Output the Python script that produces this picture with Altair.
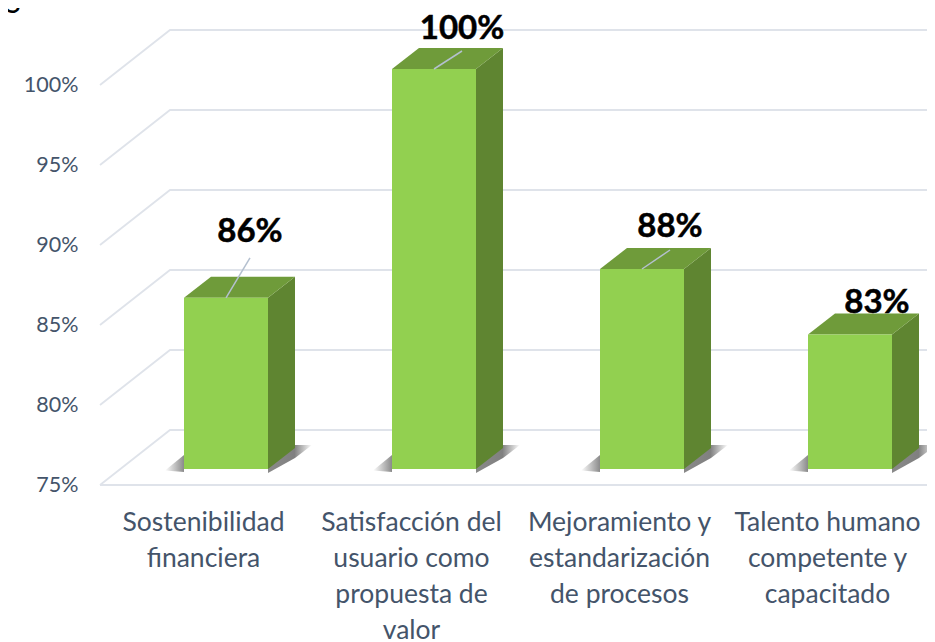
import altair as alt
import pandas as pd

categories = ["Sostenibilidad financiera", "Satisfacción del usuario como propuesta de valor",
              "Mejoramiento y estandarización de procesos", "Talento humano competente y capacitado"]
wrapped = [["Sostenibilidad", "financiera"],
           ["Satisfacción del", "usuario como", "propuesta de", "valor"],
           ["Mejoramiento y", "estandarización", "de procesos"],
           ["Talento humano", "competente y", "capacitado"]]
values = [85.7, 100.0, 87.5, 83.4]
y_ticks = [75, 80, 85, 90, 95, 100]

# layout of the pseudo-3D box, in scale units (x: category slots, y: percent)
PX_X, PX_Y = 208.0, 16.0
X_MIN, X_MAX = (100 - 226) / PX_X, (927 - 226) / PX_X
Y_MIN, Y_MAX = 75.0, 75 + 477 / PX_Y
WALL_DX, WALL_DY = 70 / PX_X, 55 / PX_Y
BAR_HALF = 42 / PX_X
BAR_DX, BAR_DY = 27 / PX_X, 21 / PX_Y
PLANE = 1.0                # bars stand 16 px in front of the axis plane
BASE = Y_MIN + PLANE
LABEL_CENTER_SHIFT = -23 / PX_X
leader_dx = [24 / PX_X, 28 / PX_X, 28 / PX_X, 0]
leader_dy = [40 / PX_Y, 18 / PX_Y, 19 / PX_Y, 0]
label_lift = [26 / PX_Y, 22 / PX_Y, 23 / PX_Y, 32 / PX_Y]
label_dx = [0, 0, 0, 27 / PX_X]

grid_rows = []
for t in y_ticks:
    grid_rows += [dict(g=str(t), o=0, x=X_MIN, y=t),
                  dict(g=str(t), o=1, x=X_MIN + WALL_DX, y=t + WALL_DY),
                  dict(g=str(t), o=2, x=X_MAX, y=t + WALL_DY)]
grid_rows += [dict(g="floor", o=0, x=X_MIN, y=Y_MIN), dict(g="floor", o=1, x=X_MAX, y=Y_MIN)]
grid_df = pd.DataFrame(grid_rows)

top, side, front, leader, lab, sh_l, sh_r = [], [], [], [], [], [], []
for i, v in enumerate(values):
    c = categories[i]
    t = v + PLANE
    xl, xr = i - BAR_HALF, i + BAR_HALF
    top += [dict(c=c, x=xl, y=t, y2=t),
            dict(c=c, x=xl + BAR_DX, y=t + BAR_DY, y2=t),
            dict(c=c, x=xr, y=t + BAR_DY, y2=t),
            dict(c=c, x=xr + BAR_DX, y=t + BAR_DY, y2=t + BAR_DY)]
    side += [dict(c=c, x=xr, y=t, y2=BASE),
             dict(c=c, x=xr + BAR_DX, y=t + BAR_DY, y2=BASE + BAR_DY)]
    front.append(dict(c=c, x=xl, x2=xr, y=t, y2=BASE))
    if leader_dx[i]:
        leader.append(dict(c=c, x=float(i), x2=i + leader_dx[i], y=t, y2=t + leader_dy[i]))
    lab.append(dict(c=c, x=i + leader_dx[i] + label_dx[i],
                    y=t + leader_dy[i] + label_lift[i], t=f"{v:.0f}%"))
    sh_l += [dict(c=c, x=xl - 19 / PX_X, y=BASE - 0.1, y2=BASE - 0.1),
             dict(c=c, x=xl, y=BASE + 14 / PX_Y, y2=BASE - 3 / PX_Y)]
    sh_r += [dict(c=c, x=xr, y=BASE + 8 / PX_Y, y2=BASE - 4 / PX_Y),
             dict(c=c, x=xr + BAR_DX, y=BASE + BAR_DY + 3 / PX_Y, y2=BASE + BAR_DY - 10 / PX_Y),
             dict(c=c, x=xr + 44 / PX_X, y=BASE + BAR_DY + 3 / PX_Y, y2=BASE + BAR_DY + 3 / PX_Y)]

FONT = "Lato"
label_map = str(wrapped)
x_scale = alt.Scale(domain=[X_MIN, X_MAX], nice=False, zero=False)
y_scale = alt.Scale(domain=[Y_MIN, Y_MAX], nice=False, zero=False)
x_axis = alt.Axis(
    values=[i + LABEL_CENTER_SHIFT for i in range(4)],
    labelExpr=f"{label_map}[round(datum.value + 0.11)]",
    domain=False, ticks=False, grid=False, labelPadding=24, labelFontSize=26.5, labelLimit=400,
    labelColor="#44546A", labelFont=FONT, labelLineHeight=36, labelOverlap=False,
    labelBound=False, labelFlush=False, labelBaseline="top", labelAlign="center")
y_axis = alt.Axis(
    values=y_ticks, labelExpr="datum.value + '%'", domain=False, ticks=False, grid=False,
    labelPadding=22, labelFontSize=21.5, labelColor="#44546A", labelFont=FONT)
X = alt.X("x:Q", scale=x_scale, title=None, axis=x_axis)
Y = alt.Y("y:Q", scale=y_scale, title=None, axis=y_axis)

grid = alt.Chart(grid_df).mark_line(color="#DFE3EA", strokeWidth=1.8).encode(
    x=X, y=Y, detail="g:N", order="o:Q")

def shadow(rows, stops):
    return alt.Chart(pd.DataFrame(rows)).mark_area(
        orient="vertical",
        color=alt.Gradient(gradient="linear", x1=0, x2=1, y1=0, y2=0, stops=stops)
    ).encode(x=X, y=Y, y2="y2:Q", detail="c:N")

shadow_left = shadow(sh_l, [alt.GradientStop(color="#FFFFFF", offset=0), alt.GradientStop(color="#8A8A8A", offset=1)])
shadow_right = shadow(sh_r, [alt.GradientStop(color="#8A8A8A", offset=0), alt.GradientStop(color="#808080", offset=0.6),
                             alt.GradientStop(color="#FFFFFF", offset=1)])

side_m = alt.Chart(pd.DataFrame(side)).mark_area(orient="vertical", color="#5F8531").encode(
    x=X, y=Y, y2="y2:Q", detail="c:N")
top_m = alt.Chart(pd.DataFrame(top)).mark_area(orient="vertical", color="#6F9B3A").encode(
    x=X, y=Y, y2="y2:Q", detail="c:N")
front_m = alt.Chart(pd.DataFrame(front)).mark_rect(color="#92D050").encode(
    x=X, x2="x2:Q", y=Y, y2="y2:Q")
leader_m = alt.Chart(pd.DataFrame(leader)).mark_rule(color="#B4C0CF", strokeWidth=1.5).encode(
    x=X, x2="x2:Q", y=Y, y2="y2:Q")
labels_m = alt.Chart(pd.DataFrame(lab)).mark_text(
    font=FONT, fontWeight="bold", fontSize=33, color="#000000", stroke="#000000", strokeWidth=0.5,
    baseline="middle", align="center"
).encode(x=X, y=Y, text="t:N")
corner = alt.Chart(pd.DataFrame({"t": ["S"]})).mark_text(
    font=FONT, fontSize=30, color="#000000", align="center", baseline="alphabetic"
).encode(x=alt.value(-87), y=alt.value(5), text="t:N")

chart = alt.layer(
    grid, shadow_left, shadow_right, side_m, top_m, front_m, leader_m, labels_m, corner
).properties(
    width=827, height=477,
    padding={"left": 92, "top": 0, "right": 0, "bottom": 157},
    autosize=alt.AutoSizeParams(type="none"),
).configure_view(stroke=None)

chart.save("out.html", embed_options={"renderer": "svg", "actions": False})
